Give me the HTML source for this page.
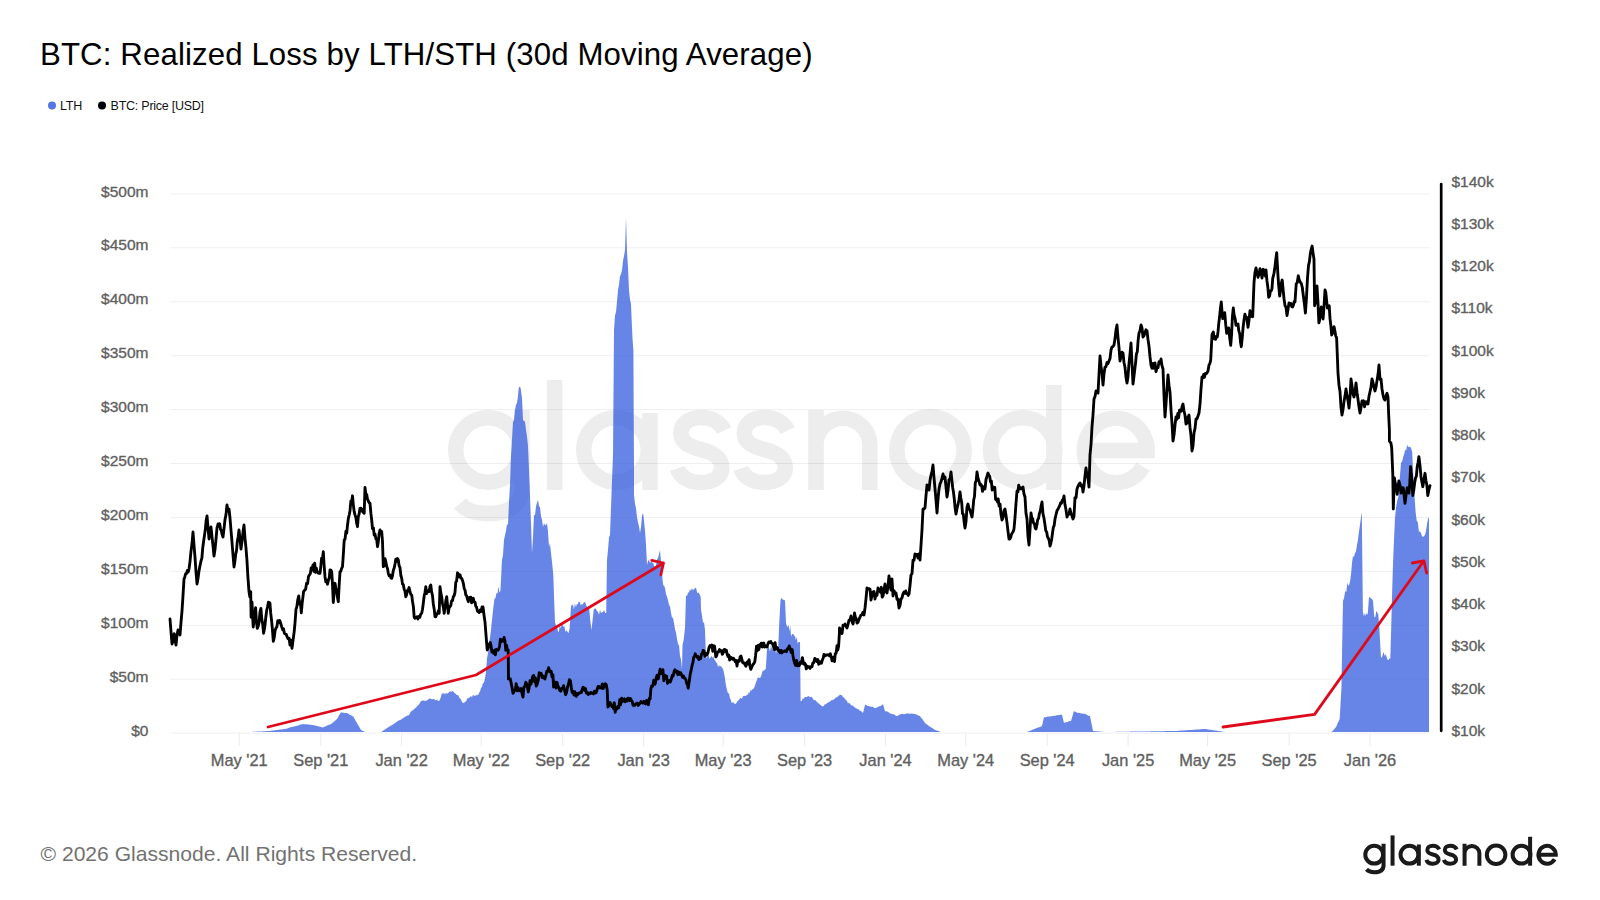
<!DOCTYPE html>
<html><head><meta charset="utf-8">
<style>
html,body{margin:0;padding:0;background:#fff;width:1600px;height:900px;overflow:hidden;}
body{position:relative;font-family:"Liberation Sans",sans-serif;}
.t{position:absolute;white-space:nowrap;}
#title{left:40px;top:36.5px;font-size:31.2px;letter-spacing:0.12px;color:#000;line-height:36px;}
#foot{left:40.5px;top:841px;font-size:21.1px;color:#727272;line-height:26px;}
svg{position:absolute;left:0;top:0;}
</style></head><body>
<svg width="1600" height="900" viewBox="0 0 1600 900">
<g transform="translate(447,490)" fill="none" stroke="#ededed" stroke-width="15.5">
<circle cx="41" cy="-40" r="32.3"/>
<path d="M75,-80 L75,-2 C75,17 60,23.5 41,23.5 C28,23.5 19,20.5 13,13.5"/>
<path d="M107.6,-110 L107.6,0"/>
<circle cx="169" cy="-40" r="32.3"/>
<path d="M203,-77 L203,0"/>
<path transform="translate(224.8,0)" d="M52.5,-59.5 C48,-68.5 39,-72.5 29,-72.5 C17,-72.5 9,-66 9,-57 C9,-47 18,-43.5 29,-40.5 C41,-37.5 50,-33 50,-22 C50,-13 41,-7.5 29,-7.5 C18,-7.5 8.5,-12.5 5.5,-21.5"/>
<path transform="translate(288.3,0)" d="M52.5,-59.5 C48,-68.5 39,-72.5 29,-72.5 C17,-72.5 9,-66 9,-57 C9,-47 18,-43.5 29,-40.5 C41,-37.5 50,-33 50,-22 C50,-13 41,-7.5 29,-7.5 C18,-7.5 8.5,-12.5 5.5,-21.5"/>
<path d="M369,-80 L369,0 M369,-45 A26.9,26.9 0 0 1 422.8,-45 L422.8,0"/>
<circle cx="483.5" cy="-39.5" r="33.7"/>
<circle cx="575.7" cy="-40" r="32.3"/>
<path d="M606.9,-105 L606.9,0"/>
<path d="M637.2,-39.5 L700.2,-39.5 A31.5,32.3 0 1 0 696,-23.4"/>
</g>
<g stroke="#000" stroke-opacity="0.065" stroke-width="1"><line x1="170.5" x2="1429.5" y1="733.1" y2="733.1"/><line x1="170.5" x2="1429.5" y1="679.2" y2="679.2"/><line x1="170.5" x2="1429.5" y1="625.3" y2="625.3"/><line x1="170.5" x2="1429.5" y1="571.3" y2="571.3"/><line x1="170.5" x2="1429.5" y1="517.4" y2="517.4"/><line x1="170.5" x2="1429.5" y1="463.5" y2="463.5"/><line x1="170.5" x2="1429.5" y1="409.6" y2="409.6"/><line x1="170.5" x2="1429.5" y1="355.7" y2="355.7"/><line x1="170.5" x2="1429.5" y1="301.7" y2="301.7"/><line x1="170.5" x2="1429.5" y1="247.8" y2="247.8"/><line x1="170.5" x2="1429.5" y1="193.9" y2="193.9"/></g>
<g stroke="#eaeaea" stroke-width="1"><line x1="239.2" x2="239.2" y1="733.5" y2="746"/><line x1="320.8" x2="320.8" y1="733.5" y2="746"/><line x1="401.6" x2="401.6" y1="733.5" y2="746"/><line x1="481.2" x2="481.2" y1="733.5" y2="746"/><line x1="562.7" x2="562.7" y1="733.5" y2="746"/><line x1="643.6" x2="643.6" y1="733.5" y2="746"/><line x1="723.1" x2="723.1" y1="733.5" y2="746"/><line x1="804.6" x2="804.6" y1="733.5" y2="746"/><line x1="885.5" x2="885.5" y1="733.5" y2="746"/><line x1="965.7" x2="965.7" y1="733.5" y2="746"/><line x1="1047.2" x2="1047.2" y1="733.5" y2="746"/><line x1="1128.1" x2="1128.1" y1="733.5" y2="746"/><line x1="1207.6" x2="1207.6" y1="733.5" y2="746"/><line x1="1289.1" x2="1289.1" y1="733.5" y2="746"/><line x1="1370.0" x2="1370.0" y1="733.5" y2="746"/></g>
<path d="M250,732 L251,731.9 L252,731.9 L253,731.8 L254,731.8 L255,731.7 L256,731.7 L257,731.6 L258,731.6 L259,731.5 L260,731.5 L261,731.4 L262,731.4 L263,731.3 L264,731.3 L265,731.2 L266,731.2 L267,731.1 L268,731.1 L269,731 L270,730.9 L271,730.8 L272,730.6 L273,730.5 L274,730.4 L275,730.2 L276,730.1 L277,730 L278,729.9 L279,729.8 L280,729.6 L281,729.5 L282,729.4 L283,729.2 L284,729.1 L285,729 L286,728.7 L287,728.4 L288,728.2 L289,727.7 L290,727.4 L291,727.1 L292,727.1 L293,726.7 L294,726.6 L295,726.2 L296,726.1 L297,725.7 L298,725.6 L299,725.2 L300,724.8 L301,724.2 L302,724.4 L303,724 L304,724.2 L305,724.2 L306,724.3 L307,724.3 L308,724.5 L309,724.5 L310,724.7 L311,724.7 L312,725.1 L313,725 L314,725.3 L315,725.4 L316,725.8 L317,726 L318,726.3 L319,726.4 L320,726.7 L321,727 L322,727.3 L323,727.4 L324,727 L325,726.5 L326,726.2 L327,725.6 L328,725.2 L329,724.8 L330,724.5 L331,724 L332,723.2 L333,722.6 L334,721.8 L335,720.7 L336,720.1 L337,719 L338,717.6 L339,715.2 L340,714.1 L341,712 L342,713 L343,712.2 L344,713.2 L345,712.8 L346,713 L347,713 L348,713.6 L349,714.2 L350,715 L351,715 L352,716.2 L353,716 L354,718.1 L355,719.6 L356,721.4 L357,723 L358,724.9 L359,726.5 L360,728.2 L361,730 L362,730.5 L363,731 L364,731.5 L365,732 L366,732 L367,732 L368,732 L369,732 L370,732 L371,732 L372,732 L373,732 L374,732 L375,732 L376,732 L377,732 L378,732 L379,732 L380,732 L381,732 L382,731.4 L383,730.7 L384,730.1 L385,729.4 L386,728.8 L387,728.1 L388,727.6 L389,726.7 L390,726.3 L391,725.5 L392,725 L393,724.4 L394,723.8 L395,723 L396,722.6 L397,721.6 L398,721 L399,720.3 L400,720.2 L401,719.5 L402,719 L403,718 L404,717.7 L405,716.7 L406,716.4 L407,715.7 L408,715.6 L409,715 L410,713.3 L411,711.4 L412,710.8 L413,710 L414,709.4 L415,708.1 L416,707.8 L417,705.9 L418,705.5 L419,704.4 L420,702.7 L421,701 L422,701 L423,700.1 L424,701 L425,700.5 L426,700.9 L427,700.3 L428,699.6 L429,698.9 L430,698.2 L431,699 L432,699.2 L433,699.3 L434,698.8 L435,699.9 L436,700.6 L437,699.2 L438,701 L439,701 L440,699.4 L441,696.4 L442,693 L443,693.8 L444,692.9 L445,694.5 L446,692.6 L447,694 L448,692.7 L449,692.6 L450,691.1 L451,692 L452,691.3 L453,691 L454,692.6 L455,693.2 L456,694.3 L457,695.2 L458,694.8 L459,697 L460,698.5 L461,699.5 L462,701.9 L463,703 L464,702.9 L465,701.8 L466,701.4 L467,699 L468,698 L469,698 L470,697.1 L471,696 L472,697.5 L473,694.5 L474,695.9 L475,695.6 L476,695.6 L477,694.7 L478,695.3 L479,693 L480,691.5 L481,687.9 L482,686.7 L483,683 L484,682.7 L485,678 L486,671.9 L487,658.6 L488,653 L489,642.7 L490,638.1 L491,630 L492.2,618 L493.4,606.7 L494.4,599.1 L495.5,598 L496.5,592.7 L497.5,593.8 L498.4,586.2 L499.4,592.5 L500.4,591 L501.2,575.8 L502,560 L503,555 L504,540 L505,535 L506,531.1 L507,523.9 L508,525 L509,502.1 L510,485 L511,455 L512,439.1 L513,422 L514,420 L515,410 L515.9,405.3 L516.9,403 L517.8,398 L518.7,388 L519.7,386.6 L520.6,388 L522,398 L523,420 L524,421 L525,421.7 L526,430 L527,436.5 L528,446 L529,470 L530,495 L531,524.1 L532,553 L533,536.9 L534,515 L535,515.2 L536,506.4 L537,502.4 L538,500 L539,506.3 L540,507.3 L541,516.2 L542,519.7 L543,527 L544,523.2 L545,525.1 L546,525.2 L547,523 L548,532.1 L549,547 L549.9,543 L550.9,552.3 L551.8,560 L552.5,566.8 L553.3,575.5 L554.1,598.2 L555,622 L556,625.7 L557,626.5 L558,631.5 L558.9,631.8 L559.8,625.5 L560.8,628.5 L561.7,624.1 L562.6,625 L563.5,626.8 L564.5,626.5 L565.4,632.1 L566.4,630.3 L567.3,631.5 L568.5,633.2 L569.6,628.4 L571,606.6 L572,604.7 L573,604.7 L573.9,609.4 L574.9,603.3 L575.9,607.3 L576.9,604 L577.8,604.2 L578.8,601.6 L579.8,602 L580.7,605.3 L581.6,604.3 L582.6,604.6 L583.5,603.1 L584.4,602 L585.3,602.3 L586.2,605.6 L587.2,607.1 L588.1,606.9 L589,606.6 L590.2,619.7 L591.4,630 L592.5,621.3 L593.7,609.8 L594.8,608.6 L595.8,608.5 L596.9,610.9 L597.9,611.7 L599,614.7 L600,609.8 L601,613.1 L602.1,612.3 L603.1,611.8 L604.1,610 L605.2,613.1 L606.2,612.9 L607,560 L608,550 L609,537.5 L610,535 L611,508 L612,480.2 L613,455 L614,330 L615,315.4 L616,312 L617,301.4 L618,290 L619,284.8 L620,276.3 L621,274 L622,270.3 L623,261 L624,256.1 L625,250 L626,218 L627,252 L628,266.9 L629,290 L630,299.5 L631,304 L631.8,323.2 L632.6,340 L633.4,350 L634,470 L634,495 L635,504 L636,508.2 L637,517 L638,522.4 L639,526.6 L640,533 L641,527.2 L642,515.6 L643,513 L644,520.3 L645,531 L646,544.2 L647,565 L648,561 L649,559.7 L650,563.2 L651,561 L652,562.7 L653,562.5 L654,565.8 L655,567 L656,565.3 L657,559.5 L658,557.9 L659,554.2 L660,550 L661,561.4 L662,567 L662.5,580 L663.4,585.4 L664.2,585.7 L665.1,588.8 L666,594 L667,596.7 L668,599.9 L669,605 L670,606.2 L671,613.1 L672,617.8 L673,617.7 L674,623 L675,629.6 L676,632.5 L677,639 L678,644.2 L679,645 L680,656 L681,659.4 L682,669 L682.5,645 L683.8,638.9 L685,627.5 L686,595 L687,596.3 L688,592.6 L689,592.6 L690,588.9 L691,590.9 L692,588 L693,590.6 L694,589.1 L695,588.4 L696,587.6 L697.2,593 L698.5,592.6 L699.6,594.2 L700.7,597 L701,609.5 L702,615.5 L703,623 L704,622.1 L705,630 L706,658 L706.9,657.2 L707.8,655.4 L708.7,655.2 L709.6,659 L710.5,657.5 L711.4,655.7 L712.3,658.1 L713.3,656.3 L714.2,659.4 L715.1,660 L716.1,662.5 L717,663 L718,667 L719,664.9 L720,666.8 L721,665.7 L722,668 L723,668.7 L724,673 L724.9,677.8 L725.8,684.8 L726.7,688.7 L727.9,693.1 L729,693.6 L729.9,698.1 L730.7,699.5 L731.6,703 L732.7,702.3 L733.9,702.9 L735,704 L736,703.7 L737,701.8 L738,700.8 L739,699.7 L740,698.2 L741,698.1 L742,698.7 L743,696.3 L744,695.8 L745,696 L746,696 L746.9,694.4 L747.9,694.9 L748.8,691.9 L749.8,692.9 L750.7,689.5 L751.7,690.8 L752.6,689.1 L753.6,688.7 L754.7,686.4 L755.9,682.6 L757,680 L758,677.1 L759,678.1 L760,678 L761,676.5 L762,673 L763,670 L763.9,671.1 L764.9,669.5 L765.8,669 L767,649.6 L768,646.5 L769,647.7 L770,651.8 L771,644.8 L772,649.8 L773,648 L774,649.9 L775,649 L776,653 L777,650.2 L778,653 L779.2,624.2 L780.5,600 L781.7,598 L782.8,599.6 L783.9,600 L785,600.5 L786,623 L787.2,627.1 L788.5,625 L789.4,631.3 L790.2,625.7 L791.1,636.7 L792,634 L793,633.8 L794,635.3 L795,636.5 L795.9,640.3 L796.8,636.7 L797.7,643.7 L798.6,642 L800,642 L800.6,701 L801.7,701 L802.8,698.6 L803.8,698.8 L804.9,697.1 L806,697 L807,696.9 L808,696.1 L809,696.3 L810,697.4 L811,696.6 L812,697.2 L813,698.7 L814,700.5 L815,699.8 L816,700.7 L817,702 L817.9,702.9 L818.9,703.5 L819.8,704.5 L820.7,705 L821.7,706.1 L822.6,706.4 L823.7,706.1 L824.8,704.2 L825.9,704.3 L827,703 L828,702.8 L829,701.7 L830,701.8 L831,700.4 L832,700 L833,700.3 L834,699.1 L835,698.7 L836,697 L837,697.6 L838,696.2 L839,695.6 L840,694.8 L841,695 L842,695.2 L843,697.2 L844,697.5 L845,699 L846,700 L847,701.1 L848,703.4 L849,702.4 L850,703.8 L851,705 L852,705.8 L853,705.3 L854,707.3 L855,707.3 L856,708.5 L857,708.4 L858,709.2 L859,709.6 L860,711 L861,710.9 L862,712.1 L863,713 L864,709.1 L865,705 L866,704.5 L867,705.8 L868,705.9 L869,706 L870,706.8 L871,706.5 L872,707.1 L873,706.4 L874,707.9 L875,708 L876,707.9 L877,707.2 L878,707.3 L879,706 L880,706.6 L881,705.4 L882,705.2 L883,704 L884,707.8 L885,711 L886,711.5 L887,711.3 L888,711.9 L889,712.4 L890,713.6 L891,713.6 L892,714.3 L893,713.9 L894,714.5 L895,714.9 L896,715.9 L897,716 L898,715.8 L899,714.8 L900,714.7 L901,714 L902,714.1 L903,713.8 L904,714.4 L905,713.7 L906,714.1 L907,713.2 L908,713.4 L909,713.4 L910,713.9 L911,713.2 L912,714 L913,713.5 L914,714.1 L915,714 L916,714.5 L917,714.6 L918,715.5 L919,715.7 L920,716 L921,717.8 L922,718.6 L923,720 L924,721.4 L925,723 L926,723.8 L927,724.4 L928,725.2 L929,725.9 L930,726.8 L931,727.2 L932,728 L933,728.6 L934,729.3 L935,730 L936,730.3 L937,730.7 L938,731 L939,731.3 L940,731.7 L941,732 L942,732 L943,732 L944,732 L945,732 L946,732 L947,732 L948,732 L949,732 L950,732 L951,732 L952,732 L953,732 L954,732 L955,732 L956,732 L957,732 L958,732 L959,732 L960,732 L961,732 L962,732 L963,732 L964,732 L965,732 L966,732 L967,732 L968,732 L969,732 L970,732 L971,732 L972,732 L973,732 L974,732 L975,732 L976,732 L977,732 L978,732 L979,732 L980,732 L981,732 L982,732 L983,732 L984,732 L985,732 L986,732 L987,732 L988,732 L989,732 L990,732 L991,732 L992,732 L993,732 L994,732 L995,732 L996,732 L997,732 L998,732 L999,732 L1000,732 L1001,732 L1002,732 L1003,732 L1004,732 L1005,732 L1006,732 L1007,732 L1008,732 L1009,732 L1010,732 L1011,732 L1012,732 L1013,732 L1014,732 L1015,732 L1016,732 L1017,732 L1018,732 L1019,732 L1020,732 L1021,732 L1022,732 L1023,732 L1024,732 L1025,732 L1026,732 L1027,732 L1028,731.6 L1029,731.2 L1030,730.8 L1031,730.4 L1032,730 L1033,729.6 L1034,729.2 L1035,728.8 L1036,728.3 L1037,728.1 L1038,727.5 L1039,727.2 L1040,726.9 L1041,726.5 L1042,726 L1043,721.6 L1044,717 L1045,717.4 L1046,716.9 L1047,716.9 L1048,716.3 L1049,716.7 L1050,716.2 L1051,716.5 L1052,716.1 L1053,716 L1054,715.7 L1055,715.8 L1056,715.7 L1057,715.1 L1058,715.3 L1059,715.1 L1060,715.1 L1061,714.5 L1062,715 L1063,718.9 L1064,723 L1065,722.6 L1066,722.3 L1067,722.1 L1068,721.7 L1069,721.3 L1070,721 L1071,721 L1072,717.8 L1073,713.9 L1074,711 L1075,711.7 L1076,712.1 L1077,712.8 L1078,712.7 L1079,713 L1080,712.9 L1081,713.6 L1082,713.3 L1083,713.9 L1084,713.5 L1085,714 L1086,714.3 L1087,714.7 L1088,715.7 L1089,715.8 L1090,716 L1091,721.2 L1092,725.9 L1093,731 L1094,731.1 L1095,731.2 L1096,731.2 L1097,731.3 L1098,731.4 L1099,731.5 L1100,731.6 L1101,731.7 L1102,731.8 L1103,731.8 L1104,731.9 L1105,732 L1106,732 L1107,732 L1108,732 L1109,731.9 L1110,731.9 L1111,731.9 L1112,731.9 L1113,731.9 L1114,731.9 L1115,731.9 L1116,731.8 L1117,731.8 L1118,731.8 L1119,731.8 L1120,731.8 L1121,731.8 L1122,731.8 L1123,731.7 L1124,731.7 L1125,731.7 L1126,731.7 L1127,731.7 L1128,731.7 L1129,731.7 L1130,731.6 L1131,731.6 L1132,731.6 L1133,731.6 L1134,731.6 L1135,731.6 L1136,731.6 L1137,731.5 L1138,731.5 L1139,731.5 L1140,731.5 L1141,731.5 L1142,731.5 L1143,731.5 L1144,731.4 L1145,731.4 L1146,731.4 L1147,731.4 L1148,731.4 L1149,731.4 L1150,731.4 L1151,731.3 L1152,731.3 L1153,731.3 L1154,731.3 L1155,731.3 L1156,731.3 L1157,731.3 L1158,731.2 L1159,731.2 L1160,731.2 L1161,731.2 L1162,731.2 L1163,731.2 L1164,731.2 L1165,731.1 L1166,731.1 L1167,731.1 L1168,731.1 L1169,731.1 L1170,731.1 L1171,731.1 L1172,731 L1173,731 L1174,731 L1175,731 L1176,730.9 L1177,730.9 L1178,730.8 L1179,730.7 L1180,730.7 L1181,730.6 L1182,730.5 L1183,730.5 L1184,730.4 L1185,730.3 L1186,730.3 L1187,730.2 L1188,730.1 L1189,730.1 L1190,730 L1191,729.9 L1192,729.9 L1193,729.8 L1194,729.7 L1195,729.7 L1196,729.6 L1197,729.5 L1198,729.5 L1199,729.4 L1200,729.3 L1201,729.3 L1202,729.2 L1203,729.1 L1204,729.1 L1205,729 L1206,729.1 L1207,729.3 L1208,729.5 L1209,729.6 L1210,729.8 L1211,729.9 L1212,730 L1213,730.2 L1214,730.4 L1215,730.5 L1216,730.6 L1217,730.8 L1218,731 L1219,731.1 L1220,731.2 L1221,731.4 L1222,731.5 L1223,731.7 L1224,731.9 L1225,732 L1226,732 L1227,732 L1228,732 L1229,732 L1230,732 L1231,732 L1232,732 L1233,732 L1234,732 L1235,732 L1236,732 L1237,732 L1238,732 L1239,732 L1240,732 L1241,732 L1242,732 L1243,732 L1244,732 L1245,732 L1246,732 L1247,732 L1248,732 L1249,732 L1250,732 L1251,732 L1252,732 L1253,732 L1254,732 L1255,732 L1256,732 L1257,732 L1258,732 L1259,732 L1260,732 L1261,732 L1262,732 L1263,732 L1264,732 L1265,732 L1266,732 L1267,732 L1268,732 L1269,732 L1270,732 L1271,732 L1272,732 L1273,732 L1274,732 L1275,732 L1276,732 L1277,732 L1278,732 L1279,732 L1280,732 L1281,732 L1282,732 L1283,732 L1284,732 L1285,732 L1286,732 L1287,732 L1288,732 L1289,732 L1290,732 L1291,732 L1292,732 L1293,732 L1294,732 L1295,732 L1296,732 L1297,732 L1298,732 L1299,732 L1300,732 L1301,732 L1302,732 L1303,732 L1304,732 L1305,732 L1306,732 L1307,732 L1308,732 L1309,732 L1310,732 L1311,732 L1312,732 L1313,732 L1314,732 L1315,732 L1316,732 L1317,732 L1318,732 L1319,732 L1320,732 L1321,732 L1322,732 L1323,732 L1324,732 L1325,732 L1326,732 L1327,732 L1328,732 L1329,732 L1330,732 L1331,732 L1332,731.4 L1333,730.7 L1334,729.5 L1335,728.2 L1336,727 L1336.9,725.2 L1337.8,722.7 L1338.8,721 L1339.7,718.7 L1340.6,702.8 L1341.5,686.7 L1342.2,643.5 L1343,601 L1344.1,597.7 L1345.2,591.1 L1346.3,592 L1347.3,582.6 L1348.3,586 L1349.3,584.6 L1350.3,580 L1351.2,572.6 L1352.1,562.1 L1353,556 L1354,557.1 L1355,552.9 L1356,551.5 L1357,545 L1357.9,540.2 L1358.8,532.7 L1359.7,526.7 L1360.8,518.8 L1361.8,512 L1362.9,612 L1363.9,616.2 L1364.8,613.2 L1365.8,615.7 L1366.7,613 L1367.7,614.7 L1369,597 L1370,597.5 L1371,598.6 L1372,599 L1373,601 L1374.3,617 L1375.3,617.2 L1376.3,611 L1377.3,612.6 L1378.3,614.7 L1379.2,625.9 L1380.1,642.3 L1381,657 L1381.9,657.7 L1382.8,654.2 L1383.7,652 L1384.7,655.9 L1385.7,654.2 L1386.7,657.2 L1387.7,660 L1388.6,660 L1389.4,658.2 L1390.3,658.7 L1391.2,628 L1392.1,593.5 L1393,564 L1394,539.6 L1395,518 L1396.1,507.1 L1397.2,500.9 L1398.3,496.7 L1399.2,486 L1400.1,474.2 L1401,463 L1402.2,461 L1403.3,456.7 L1404.3,453.6 L1405.2,449.4 L1406.2,450.3 L1407.2,444.4 L1408.1,447.3 L1409.1,446.4 L1410,446.7 L1411.1,448.2 L1412.2,452 L1412.8,465.6 L1413.6,479.9 L1414.4,494.4 L1415.6,512 L1416.7,520.8 L1417.8,522 L1418.9,531.5 L1419.9,531.5 L1421,533 L1422,536.2 L1423,537 L1424,536.1 L1425,535 L1426,531.1 L1427,524.2 L1428,519 L1429,517 L1429,732 Z" fill="#2651db" fill-opacity="0.7"/>
<path d="M170,619 L171,631.7 L172,644 L173.1,640.6 L174.2,633.7 L175.1,640.2 L176,645 L177,635.2 L178,630 L179,632.8 L180,635 L181,622.4 L182,611 L183,595.6 L184,579 L184.8,576.9 L185.7,573.7 L186.5,573.7 L187.3,570.5 L188.2,572 L189,569 L190,561.6 L191,551.2 L192,543.5 L193,532 L194,545 L195,557.3 L196,571.8 L197,584 L198,578.5 L199,570.9 L200,565.6 L201,561 L201.9,558.1 L202.7,548.2 L203.6,541.4 L204.4,535.9 L205.3,529.8 L206.1,521 L207,516 L208,527 L209,539 L210,531.9 L211,527 L212,536.7 L213,545.9 L214,556 L215,549.5 L216,539.3 L217,527.8 L218,524 L218.8,526.4 L219.7,523.8 L220.5,529.3 L221.3,530.4 L222.2,534.6 L223,537 L224,528.5 L225,519.6 L226,514.6 L227,505 L228,511.1 L229,509 L230,518 L231,530.4 L232,541.9 L233,555 L234,567 L234.8,562 L235.7,554.4 L236.5,550.8 L237.3,541.5 L238.2,536.7 L239,530 L240,539.2 L241,549 L242,541.4 L243,532 L244,525 L245,538.2 L246,548.2 L247,561 L247.9,576.9 L248.9,590.7 L249.8,596.8 L250.7,591.6 L251.1,617.3 L252,602 L253.2,627 L254,621.3 L254.8,612.9 L255.6,607.6 L256.4,621.3 L257.3,628.4 L258.2,626.2 L259.1,622.1 L260,612 L260.9,608.4 L261.8,619 L262.7,624.3 L263.6,633.3 L264.7,627.5 L265.8,617.3 L266.7,610.4 L267.5,607.1 L268.4,602.2 L269.2,606.6 L269.9,602.9 L270.7,612.9 L271.6,620.9 L272.4,629.2 L273.3,641.3 L274.2,637.7 L275.1,630.5 L276,628 L276.9,626.7 L277.8,620.7 L278.7,622.7 L279.7,620.5 L280.8,623.6 L281.8,627.1 L282.7,629.9 L283.5,628.7 L284.4,633.3 L285.3,634 L286.2,634.3 L287.1,636.9 L288.1,638.8 L289.1,638.2 L290,645.1 L291,640.2 L292,648.4 L293.1,639.9 L294.2,631.6 L295.1,621.9 L296,609.3 L296.9,606.4 L297.8,599.5 L298.7,596 L299.6,604 L300.4,602 L301.3,612.9 L302.1,603.9 L302.8,598.1 L303.6,591.6 L304.6,590.1 L305.6,589.3 L306.6,583.3 L307.6,583.6 L308.5,576.5 L309.4,575 L310.3,573.7 L311.2,567.9 L312.1,569.5 L313,565 L313.8,571.4 L314.7,563.2 L315.5,572.3 L316.3,568.2 L317.2,571.6 L318,573 L319,573.3 L320,573.3 L320.8,566.6 L321.6,558.1 L322.5,558.9 L323.3,551.7 L324.1,564.8 L325,576.7 L325.8,581.7 L326.7,579.9 L327.5,584.2 L328.3,580.4 L329.2,578.4 L330,570 L330.9,570.2 L331.7,571.7 L332.5,584.3 L333.3,602.5 L334.1,592.5 L335,583.3 L335.8,588.2 L336.6,590.8 L337.5,597.8 L338.3,601.7 L339.1,586.1 L340,571.7 L340.8,571.4 L341.7,568.1 L342.5,566.7 L343.4,553.5 L344.2,540 L345,539.4 L345.9,531.3 L346.7,533.3 L347.5,525.2 L348.4,518.1 L349.2,515 L350,510.7 L350.9,500.9 L351.7,501.9 L352.5,495.8 L353.4,505.6 L354.2,511.7 L355,514.9 L355.9,517.6 L356.7,523.5 L357.5,526.7 L358.3,516.6 L359.2,513.8 L360,508.3 L360.8,508.1 L361.7,509 L362.5,511.5 L363.4,512.5 L364.2,513.3 L365,487.5 L365.8,494.3 L366.7,494.4 L367.5,499.2 L368.3,501 L369.2,502.8 L370,503.3 L370.9,513.4 L371.7,520 L372.5,528.7 L373.4,527.9 L374.2,535 L375,534.1 L375.9,538.9 L376.7,539.5 L377.5,546.7 L378.3,541.7 L379.2,533.1 L380,530 L380.8,533.4 L381.7,531.5 L382.5,541.7 L383.3,566.7 L384.1,565.6 L385,558.7 L385.8,561.7 L386.6,566 L387.5,568.6 L388.3,573.3 L389.1,575.9 L390,574.9 L390.9,577.9 L391.7,578.3 L392.5,575.8 L393.3,570.3 L394.2,568 L395,564 L395.8,559.2 L396.6,561.4 L397.5,558.5 L398.3,560 L399.1,565.6 L400,567.6 L400.9,575.8 L401.7,578.3 L402.5,584.1 L403.3,584.5 L404.2,589.5 L405,591.2 L405.8,596.7 L406.6,594.8 L407.5,590.3 L408.3,590 L409.1,587.5 L410,591.8 L410.9,594.6 L411.7,595 L412.5,601.3 L413.4,606.7 L414.2,617.3 L415,618.3 L416,617.6 L416.9,616.8 L417.9,619 L418.8,616.5 L419.8,617.3 L420.7,614.2 L421.7,613.3 L422.5,609.2 L423.3,603.3 L424.2,595.6 L425,592.5 L425.8,586.7 L426.6,593.7 L427.5,590.5 L428.3,591.7 L429.1,591.5 L430,586.5 L430.8,585 L431.6,591.9 L432.5,595.7 L433.3,603.9 L434.2,609.2 L435,616.7 L435.8,616.8 L436.7,614.5 L437.5,613.3 L438.4,610.7 L439.2,613.3 L440,586.7 L440.8,592.9 L441.7,596.9 L442.5,603.7 L443.4,607.6 L444.2,613.3 L445,607.9 L445.9,600.2 L446.7,596.7 L447.5,604.9 L448.3,613.3 L449.1,607.8 L450,606.6 L450.8,605.4 L451.6,600.9 L452.5,600.6 L453.3,596.7 L454.1,595.8 L455,592.3 L455.8,582.1 L456.6,581.1 L457.5,572.8 L458.3,574.2 L459.1,576.8 L460,574.7 L460.9,578.1 L461.7,578.3 L462.5,580.4 L463.4,583.6 L464.2,588.6 L465,590 L465.8,594.9 L466.6,595.8 L467.5,599 L468.3,601.7 L469.1,597.8 L470,597.3 L470.8,597.2 L471.6,602.9 L472.5,600 L473.3,598.3 L474.1,602 L475,602.1 L475.8,606.3 L476.6,607.2 L477.5,611.2 L478.3,611.7 L479.2,612.6 L480.2,610 L481.1,611.6 L482.1,606.9 L483,607 L484,615 L485,622 L486.1,636.2 L487.2,650 L488.2,647.8 L489.3,644.1 L490.3,642.4 L491.1,646.4 L491.9,652 L492.7,651.8 L493.6,653.3 L494.5,650.2 L495.4,654.8 L496.2,649.4 L497.1,649.9 L498,650.2 L498.9,648.6 L499.6,646 L500.4,639.3 L501.3,641.4 L502.2,639.7 L503.2,641.2 L504.1,637.5 L505,641 L505.8,650.3 L506.6,645.4 L507.4,650 L508.2,650 L508.5,678.9 L509.4,679.1 L510.3,678.9 L511.2,683.4 L512.1,688 L513,693.3 L513.8,692.3 L514.6,690.3 L515.4,689.2 L516.2,683.7 L517.2,690.8 L518.1,687.7 L519.1,690.8 L520.1,690.4 L521,688.6 L522,693.3 L523,697.1 L523.9,687.1 L524.8,686.6 L525.8,682.3 L526.6,683.7 L527.4,686.4 L528.2,691.9 L529.1,688.2 L530,680.8 L531,684.2 L531.9,680 L532.8,676.2 L533.7,675.4 L534.6,681.7 L535.4,677.9 L536.2,686.1 L537.1,684.4 L538.2,680.6 L539.2,672.7 L540.2,673.7 L541.1,673.2 L542.1,677.6 L543,675.9 L544,678.2 L544.9,679 L545.8,675.6 L546.8,671.1 L547.7,671.7 L548.6,667.7 L549.5,670 L550.4,672.1 L551.2,671.2 L552,676.8 L552.9,674.7 L553.6,687.1 L554.5,681.9 L555.3,683.2 L556.1,688 L557,682.3 L557.9,686.1 L558.9,687.6 L559.8,690.5 L560.8,691.2 L561.7,688.4 L562.7,688.8 L563.6,685.6 L564.6,690.5 L565.6,694.7 L566.5,692.8 L567.5,687.3 L568.5,684.2 L569.4,679.6 L570.5,681.1 L571.5,689.2 L572.3,692.6 L573.1,691.3 L574,695.1 L574.8,691.6 L575.6,695.4 L576.4,696.2 L577.2,693.4 L578.1,694.3 L578.9,693.4 L579.7,692.6 L580.5,692.8 L581.3,692.7 L582.2,689.3 L583,687.3 L583.8,687.8 L584.7,690.6 L585.5,688.5 L586.4,693.1 L587.3,692.6 L588.2,694.5 L589.1,693 L590,693.7 L590.9,692.5 L591.8,693.3 L592.6,693.2 L593.5,693.9 L594.4,691.2 L595.3,693 L596.2,692.6 L597.1,689.5 L598.1,686.4 L599,686.4 L599.8,687.9 L600.6,687.2 L601.5,688.1 L602.3,683.9 L603.1,688.5 L604.2,686.5 L605.2,683.7 L606.2,684.6 L607.2,689.9 L607.9,707 L608.9,705.4 L610,702.5 L611,704 L611.8,706.6 L612.7,706.4 L613.5,708.6 L614.3,702.7 L615.2,712.3 L616,708 L616.9,709.1 L617.9,706.3 L618.8,707.8 L619.7,699.8 L620.6,704.9 L621.6,698.2 L622.5,701.5 L623.4,699.9 L624.3,698.8 L625.2,701.8 L626.1,699.7 L626.9,701 L627.8,698.1 L628.7,698.6 L629.6,700.8 L630.5,698.5 L631.4,700.5 L632.2,701.5 L633.1,705.4 L634,705 L634.9,705.3 L635.7,703.8 L636.6,704 L637.4,703 L638.3,705.4 L639.1,704 L640,703.5 L640.9,701.6 L641.9,702.4 L642.8,703.1 L643.8,701.2 L644.7,703.3 L645.6,703.9 L646.6,700.4 L647.5,702.5 L648.4,704.7 L649.3,698.4 L650.1,698.8 L650.9,688.6 L651.7,686 L652.7,686.2 L653.8,680.2 L654.8,684.4 L655.5,682.7 L656.3,677.4 L657.2,675.1 L658.2,678.9 L659.1,674.8 L660.1,669.2 L661,673.5 L661.9,673.7 L662.9,669.6 L663.8,680.7 L664.8,675.4 L665.7,675.9 L666.6,676.2 L667.5,683.4 L668.5,681.7 L669.4,680.5 L670.3,682.1 L671.2,679.6 L672.2,675.5 L673.1,676.1 L674.1,671.5 L675,669.7 L675.9,671.9 L676.9,671 L677.8,674.7 L678.8,672 L679.7,674.3 L680.7,672.7 L681.6,674.8 L682.5,677.2 L683.5,675.9 L684.3,678.2 L685.1,678.4 L685.9,679.8 L686.7,683.5 L687.4,684.5 L688.2,688.3 L689.2,681.7 L690.3,673.6 L691.3,669.7 L692.1,665.4 L692.9,662.6 L693.7,657.2 L694.5,656.5 L695.2,653.8 L696,655.7 L697,657.3 L698,656.6 L698.9,659.5 L699.9,658.8 L700.7,658.7 L701.4,654.1 L702.2,654.1 L703.1,650.4 L704.1,651.2 L705,656.2 L706,653.4 L706.9,654.9 L707.9,653 L709,647.4 L710,645.6 L710.9,646.9 L711.8,645.1 L712.8,651.3 L713.7,645.7 L714.6,646.3 L715.8,656.8 L716.7,655.6 L717.6,651.9 L718.6,651.9 L719.5,649.5 L720.4,651 L721.4,650.7 L722.3,654.4 L723.1,653 L724,649.6 L724.8,649.5 L725.6,651.6 L726.4,650.3 L727.2,654.4 L728,656.5 L728.8,655 L729.6,660.1 L730.6,657.2 L731.6,657.8 L732.5,659.2 L733.5,658.3 L734.5,660.1 L735.3,661.7 L736.1,660.4 L737,666.1 L737.8,660.7 L738.6,661.7 L739.4,661.1 L740.2,656.8 L741,656 L741.8,659.2 L742.6,662.4 L743.5,663.1 L744.3,663 L745.1,665 L745.9,666.2 L746.7,662.6 L747.5,661.7 L748.3,664.1 L749.1,659.6 L750,666.1 L750.8,669.4 L751.6,667.4 L752.4,665.6 L753.2,664.1 L754,663.5 L754.8,661.7 L755.6,655.4 L756.5,646.3 L757.3,650.8 L758.1,645.4 L758.9,649.5 L759.7,644.6 L760.5,646.2 L761.3,643.1 L762.2,647 L763,644 L763.8,643 L764.6,647.1 L765.4,645.8 L766.2,646 L767,647 L767.9,643.9 L768.9,642 L769.8,642.6 L770.7,641.4 L771.6,643.4 L772.6,643.7 L773.5,646.3 L774.3,649.5 L775.1,642.6 L776,649.2 L776.8,647.3 L777.6,647.9 L778.4,651 L779.2,650.3 L780.1,652.7 L781.1,650.4 L782,652.9 L782.9,651.3 L783.8,651.6 L784.8,650.7 L785.7,651.1 L786.5,651.7 L787.4,648.6 L788.2,648.7 L789.2,645.9 L790.2,648.5 L791.2,652.6 L792.2,649.5 L793,655.7 L793.9,660.5 L794.7,663.3 L795.6,665.3 L796.6,660.4 L797.5,665.8 L798.4,663.9 L799.3,665.5 L800.3,662.2 L801.2,663.3 L802.4,657.6 L803.6,664.1 L804.5,662.9 L805.4,664.2 L806.3,668.9 L807.2,666.1 L808.2,667.2 L809.1,666.8 L810,668.4 L810.9,666.6 L811.9,666.9 L812.9,662.9 L813.8,662.7 L814.8,658.4 L815.8,659.3 L816.8,661.4 L817.8,659.6 L818.7,664.3 L819.7,661.6 L820.7,663.3 L821.5,663.1 L822.3,660.2 L823.2,658 L824,654.4 L824.8,656 L825.8,655 L826.7,655.2 L827.7,654.7 L828.6,654.9 L829.6,656 L830.4,653.8 L831.3,657.2 L832.1,660.9 L832.9,657.8 L833.7,657.1 L834.5,661.6 L835.3,653.6 L836.1,653.4 L837,645.8 L837.8,650 L838.6,646.3 L839.4,633.3 L839.5,628 L840.2,630.4 L841,630 L842,633.5 L843,625.3 L844,625.5 L845,624 L846,626.2 L847,628 L848,624.3 L849,620.3 L850,619.7 L851,616 L852,621.6 L853,624 L853.8,619.9 L854.5,613 L855.3,617 L856.2,618.6 L857,623 L858,622.3 L859,619.4 L860,617.2 L861,615 L862,614.6 L863,612.1 L864,615 L865,608 L866,598.6 L867,588 L868,589.1 L869,588.7 L870,589 L871,600 L872,595.1 L873,592 L874,591.4 L875,599 L876,594.1 L877,595.4 L878,588 L878.8,589.4 L879.7,589.8 L880.5,592.4 L881.3,587.3 L882.2,597.1 L883,596 L884,590.1 L885,584 L886,591.9 L887,593 L888,586.1 L889,576 L890,584.2 L891,590 L892,579 L893,596 L894,590.7 L895,592.8 L896,593 L897,599.2 L898,599 L899,608 L900,605.5 L901,599 L902,597.8 L903,593.9 L904,592 L904.8,593.2 L905.7,590.9 L906.5,593.7 L907.3,593.8 L908.2,595.4 L909,594 L910,585.6 L911,575 L912,573.7 L913,560.1 L914,560.4 L915,554 L916,554.3 L917,554.5 L918,558.1 L919,554 L920,560 L921,545.4 L922,530 L923,509 L924,508.9 L925,508 L926,495.5 L927,485 L928,485.3 L929,490 L930,480.6 L931,475 L932,471.6 L933,465 L934,477.7 L935,488.6 L936,500.1 L937,513 L938,499.3 L939,489 L940,483.9 L941,481.8 L942,478.2 L943,474 L944,478.6 L945,477 L946,487 L947,497 L948,490.8 L949,479.6 L950,479 L951,472 L951.8,479.7 L952.7,487.7 L953.5,492.3 L954.3,499 L955.2,508.9 L956,514 L957,508.4 L958,504.3 L959,499.8 L960,492 L960.8,497.9 L961.7,502.7 L962.5,513.7 L963.3,514.1 L964.2,522.5 L965,528 L966,521.6 L967,507.2 L968,504 L969,508.6 L970,510.1 L971,513.9 L972,517 L972.8,510.4 L973.7,500 L974.5,496.5 L975.3,482.6 L976.2,480.8 L977,472 L978,478.2 L979,481.1 L980,485 L980.8,484.2 L981.7,486 L982.5,491.4 L983.3,486.8 L984.2,488.4 L985,489 L986,479.5 L987,476.3 L988,473 L988.8,475.2 L989.7,476.2 L990.5,481.8 L991.3,480.9 L992.2,490 L993,487 L993.9,489.3 L994.8,487.4 L995.6,499.5 L996.5,498.7 L997.4,502 L998.2,499 L999.1,506.1 L1000,504 L1001,514.6 L1002,520 L1003,517.7 L1004,510.6 L1005,509 L1006,515.2 L1007,522.8 L1008,531.1 L1009,539 L1009.8,539 L1010.7,537.4 L1011.5,534.2 L1012.3,533 L1013.2,531.6 L1014,529 L1015,517.5 L1016,503.4 L1017,491 L1017.9,492 L1018.7,485.2 L1019.6,488.9 L1020.4,487.4 L1021.3,488.9 L1022.1,488.3 L1023,487 L1024,494 L1025,497 L1026,513.3 L1027,519 L1028,536.6 L1029,545 L1030,529.7 L1031,513 L1031.8,517.8 L1032.7,518.8 L1033.5,523.1 L1034.3,523.3 L1035.2,528 L1036,529 L1036.9,524.8 L1037.7,519.5 L1038.6,518.3 L1039.4,513.4 L1040.3,510.9 L1041.1,506.1 L1042,502 L1043,513.9 L1044,518.2 L1045,525 L1045.8,530.8 L1046.7,532.1 L1047.5,536.9 L1048.3,538 L1049.2,540.5 L1050,546 L1050.8,543.5 L1051.7,539 L1052.5,533.1 L1053.3,527.5 L1054.2,525.4 L1055,519 L1056,514.7 L1057,510.6 L1058,509.2 L1059,507 L1059.8,505.5 L1060.7,502.6 L1061.5,503.2 L1062.3,500.1 L1063.2,499.4 L1064,496 L1065,504.8 L1066,509.7 L1067,517 L1068,514.5 L1069,514.2 L1070,509 L1071,513.3 L1072,516.1 L1073,519 L1074,516.2 L1075,497.7 L1076,497.8 L1077,489 L1078,486.2 L1079,484.4 L1080,483 L1081,486.1 L1082,484.9 L1083,492 L1084,485.7 L1085,476 L1086,468 L1087,475.5 L1088,478.2 L1089,487 L1090,455 L1091,444.6 L1092,426.9 L1093,415 L1094,399 L1095,396.6 L1096,391 L1097,392.5 L1098,393 L1099,374.5 L1100,356 L1101,366.2 L1102,373 L1103,385 L1104,373.9 L1105,367 L1106,366.6 L1107,362.5 L1108,363.6 L1109,361 L1110,358.6 L1111,350 L1112,347 L1113,346.6 L1114,345 L1115,338.8 L1116,330 L1117,325 L1118,337.5 L1119,347.4 L1120,361 L1121,356.7 L1122,352.2 L1123,353 L1124,362.5 L1125,367.3 L1126,377.4 L1127,383 L1128,376.7 L1129,363.4 L1130,354.2 L1131,343 L1132,363.5 L1133,384 L1133.9,376.8 L1134.7,370.1 L1135.6,362.8 L1136.4,354 L1137.3,351.8 L1138.1,340.6 L1139,333 L1140,330.8 L1141,325 L1142,328 L1143,337 L1144,335.7 L1145,332.7 L1146,329.8 L1147,331 L1148,339.4 L1149,346.2 L1150,356.7 L1151,365 L1152,368.3 L1153,363.5 L1154,368.2 L1155,363 L1156,371.7 L1157,368 L1158,367.7 L1159,361.8 L1160,363.3 L1161,359 L1162,365.8 L1163,369 L1164,395.4 L1165,417 L1166,403.9 L1167,388.8 L1168,375 L1169,385.2 L1170,392 L1171,410.2 L1172,423.6 L1173,441 L1174,435.1 L1175,425 L1176,417 L1176.9,419.3 L1177.8,413.4 L1178.6,417.8 L1179.5,410.2 L1180.4,410 L1181.2,411.3 L1182.1,406.5 L1183,404 L1184,411 L1185,415.3 L1186,424 L1187,423.1 L1188,417.1 L1189,415 L1190,427.4 L1191,435.7 L1192,451 L1193,445.9 L1194,432.9 L1195,428.6 L1196,419 L1197,418.8 L1198,416 L1199,413 L1200,404.1 L1201,389 L1202,377 L1202.8,377.7 L1203.7,374.4 L1204.5,377.3 L1205.3,373.5 L1206.2,373.6 L1207,373 L1208,370.9 L1209,365 L1209.8,363.8 L1210.7,360 L1212,334.7 L1213.3,332 L1214,337.6 L1214.7,339 L1215.6,339.3 L1216.4,336.3 L1217.3,337 L1218,331.9 L1218.7,324 L1219.6,316.8 L1220.4,308.5 L1221.3,302 L1222,311.2 L1222.7,318.7 L1223.7,315.4 L1224.7,312.7 L1225.7,324.4 L1226.7,333.3 L1227.7,332.2 L1228.7,328 L1229.7,337.8 L1230.7,345.3 L1231.6,334.3 L1232.4,316.8 L1233.3,308 L1234.2,315.3 L1235.1,318.4 L1236,325.3 L1237,324.6 L1238,324 L1238.8,330.8 L1239.7,333.7 L1240.5,342.2 L1241.3,346.7 L1242.2,338.2 L1243.1,327.3 L1244,320 L1244.9,314.2 L1245.8,318 L1246.7,317.3 L1248,327.3 L1249,320.2 L1250,310.7 L1250.9,316.4 L1251.8,314.2 L1252.7,316.7 L1254,282.7 L1255,272.4 L1256,268 L1257,272.4 L1258,277.3 L1259,274.3 L1260,268.7 L1261,270.7 L1262,278 L1263.3,269.3 L1264.3,273 L1265.3,276 L1266,270 L1266.9,280.2 L1267.8,286.9 L1268.7,297.3 L1269.6,295.9 L1270.4,290.9 L1271.3,290.7 L1272,288.7 L1272.7,278.7 L1274,273.3 L1274.9,267 L1275.8,259.3 L1276.7,252.7 L1278,276 L1278.8,286.9 L1279.7,296 L1280.5,290.6 L1281.4,282.9 L1282.2,280 L1283.1,289.5 L1284,298.5 L1285,305.5 L1286,307.4 L1287,315.6 L1288,309.6 L1289,303 L1289.9,303.3 L1290.8,303.4 L1291.7,306.7 L1292.6,307 L1293.4,305.2 L1294.2,301.4 L1295,302 L1296.2,283.8 L1297.2,282.8 L1298.3,275.8 L1299.3,280 L1300.3,282.1 L1301.3,283.5 L1302.3,287.5 L1303.3,295.5 L1304.4,303.8 L1305.4,313 L1306.4,299.1 L1307.5,277.9 L1308.5,265.5 L1309.4,261.6 L1310.3,253.7 L1311.2,249.3 L1312.1,246 L1313,252.8 L1314,259.3 L1314.6,305.8 L1315.4,302.3 L1316.2,294.9 L1317,286 L1318,303.2 L1318.9,322.9 L1319.7,319.6 L1320.5,311.8 L1321.3,307 L1322.2,315.3 L1323.1,319 L1324,306.4 L1325,290 L1325.8,292.5 L1326.6,300.6 L1327.4,308 L1328.3,307.5 L1329.2,305.8 L1330,318.4 L1330.9,326.2 L1331.7,335 L1332.5,333.3 L1333.2,329.4 L1334,326.6 L1334.9,331.1 L1335.7,335.8 L1336.6,337.6 L1337.3,354.8 L1338,373 L1339,385.2 L1340,391.5 L1341,407 L1342,415 L1343,409.6 L1344,401.6 L1345,396.1 L1346,389 L1347,395.6 L1348,400.6 L1349,408 L1350,396.9 L1351,379 L1352,385.8 L1353,393.8 L1354,397 L1355,392.4 L1356,383 L1357,392.2 L1358,399.3 L1359,407 L1360,413 L1361,407.8 L1362,401 L1362.9,404.1 L1363.7,400.8 L1364.6,406.9 L1365.4,401.8 L1366.3,403.8 L1367.1,401.8 L1368,404 L1369,396.3 L1370,391.8 L1371,387 L1372,379 L1373,382.4 L1374,387.4 L1375,391 L1376,387.2 L1377,380.6 L1378,374.6 L1379,365 L1380,379.4 L1381,378.9 L1382,389 L1383,395 L1384,399 L1385,400 L1386,395.9 L1387,393.3 L1388,397 L1388.7,415.2 L1389.4,430 L1389.4,441 L1390.2,442.2 L1390.9,443 L1391.7,447.8 L1392.8,474.4 L1393.3,509 L1394.4,477.8 L1395.3,483.4 L1396.3,487.7 L1397.2,494.4 L1398.1,486.1 L1398.9,481 L1400,485.4 L1401,493 L1401.8,492.6 L1402.5,487.7 L1403.3,487.8 L1404.2,496.4 L1405,503.3 L1406.1,494.9 L1407.2,487.8 L1408.1,492.6 L1408.9,493 L1409.8,483.6 L1410.6,466.7 L1411.7,478.3 L1412.8,495.6 L1413.7,490.5 L1414.7,482.5 L1415.6,477.8 L1416.4,476.2 L1417.2,466.7 L1418.1,462.3 L1418.9,456.7 L1420,465.7 L1421,476.7 L1421.9,481.9 L1422.8,486.7 L1423.9,480.1 L1425,473.3 L1425.9,480.3 L1426.9,485.4 L1427.8,495.6 L1428.9,489.8 L1430,485.6" fill="none" stroke="#000" stroke-width="2.85" stroke-linejoin="round" stroke-linecap="round"/>
<g fill="none" stroke="#de0a1c" stroke-width="2.8" stroke-linejoin="round" stroke-linecap="round">
<path d="M268,727 L476,675 L663.5,563 M651.8,560.3 L663.5,563 L660.8,574.8"/>
<path d="M1223,727 L1314.6,714.4 L1423.9,560.8 M1412.3,563 L1423.9,560.8 L1426.6,573"/>
</g>
<line x1="1441.2" x2="1441.2" y1="184" y2="730.8" stroke="#000" stroke-width="2.7" stroke-linecap="round"/>
<g font-family="Liberation Sans" font-size="15.5" fill="#5f5f5f" stroke="#5f5f5f" stroke-width="0.35" text-anchor="end"><text x="148.5" y="735.7">$0</text><text x="148.5" y="681.8">$50m</text><text x="148.5" y="627.9">$100m</text><text x="148.5" y="573.9">$150m</text><text x="148.5" y="520.0">$200m</text><text x="148.5" y="466.1">$250m</text><text x="148.5" y="412.2">$300m</text><text x="148.5" y="358.3">$350m</text><text x="148.5" y="304.3">$400m</text><text x="148.5" y="250.4">$450m</text><text x="148.5" y="196.5">$500m</text></g>
<g font-family="Liberation Sans" font-size="15.5" fill="#5f5f5f" stroke="#5f5f5f" stroke-width="0.35"><text x="1451.5" y="186.5">$140k</text><text x="1451.5" y="228.8">$130k</text><text x="1451.5" y="271.0">$120k</text><text x="1451.5" y="313.2">$110k</text><text x="1451.5" y="355.5">$100k</text><text x="1451.5" y="397.8">$90k</text><text x="1451.5" y="440.0">$80k</text><text x="1451.5" y="482.2">$70k</text><text x="1451.5" y="524.5">$60k</text><text x="1451.5" y="566.8">$50k</text><text x="1451.5" y="609.0">$40k</text><text x="1451.5" y="651.2">$30k</text><text x="1451.5" y="693.5">$20k</text><text x="1451.5" y="735.8">$10k</text></g>
<g font-family="Liberation Sans" font-size="16.4" fill="#5f5f5f" stroke="#5f5f5f" stroke-width="0.35" text-anchor="middle"><text x="239.2" y="765.5">May '21</text><text x="320.8" y="765.5">Sep '21</text><text x="401.6" y="765.5">Jan '22</text><text x="481.2" y="765.5">May '22</text><text x="562.7" y="765.5">Sep '22</text><text x="643.6" y="765.5">Jan '23</text><text x="723.1" y="765.5">May '23</text><text x="804.6" y="765.5">Sep '23</text><text x="885.5" y="765.5">Jan '24</text><text x="965.7" y="765.5">May '24</text><text x="1047.2" y="765.5">Sep '24</text><text x="1128.1" y="765.5">Jan '25</text><text x="1207.6" y="765.5">May '25</text><text x="1289.1" y="765.5">Sep '25</text><text x="1370.0" y="765.5">Jan '26</text></g>
<circle cx="52" cy="105.6" r="4" fill="#5577e3"/>
<circle cx="102" cy="105.6" r="4" fill="#000"/>
<text x="60" y="110.2" font-family="Liberation Sans" font-size="12.5" letter-spacing="-0.2" fill="#111">LTH</text>
<text x="110.6" y="110.2" font-family="Liberation Sans" font-size="12.5" letter-spacing="-0.25" fill="#111">BTC: Price [USD]</text>
<g transform="translate(1362.9,865.7) scale(0.2755)" fill="none" stroke="#1a1a1a" stroke-width="14.5">
<circle cx="41" cy="-40" r="32.3"/>
<path d="M75,-80 L75,-2 C75,17 60,23.5 41,23.5 C28,23.5 19,20.5 13,13.5"/>
<path d="M107.6,-110 L107.6,0"/>
<circle cx="169" cy="-40" r="32.3"/>
<path d="M203,-77 L203,0"/>
<path transform="translate(224.8,0)" d="M52.5,-59.5 C48,-68.5 39,-72.5 29,-72.5 C17,-72.5 9,-66 9,-57 C9,-47 18,-43.5 29,-40.5 C41,-37.5 50,-33 50,-22 C50,-13 41,-7.5 29,-7.5 C18,-7.5 8.5,-12.5 5.5,-21.5"/>
<path transform="translate(288.3,0)" d="M52.5,-59.5 C48,-68.5 39,-72.5 29,-72.5 C17,-72.5 9,-66 9,-57 C9,-47 18,-43.5 29,-40.5 C41,-37.5 50,-33 50,-22 C50,-13 41,-7.5 29,-7.5 C18,-7.5 8.5,-12.5 5.5,-21.5"/>
<path d="M369,-80 L369,0 M369,-45 A26.9,26.9 0 0 1 422.8,-45 L422.8,0"/>
<circle cx="483.5" cy="-39.5" r="33.7"/>
<circle cx="575.7" cy="-40" r="32.3"/>
<path d="M606.9,-105 L606.9,0"/>
<path d="M637.2,-39.5 L700.2,-39.5 A31.5,32.3 0 1 0 696,-23.4"/>
</g>
</svg>
<div class="t" id="title">BTC: Realized Loss by LTH/STH (30d Moving Average)</div>
<div class="t" id="foot">© 2026 Glassnode. All Rights Reserved.</div>
</body></html>
